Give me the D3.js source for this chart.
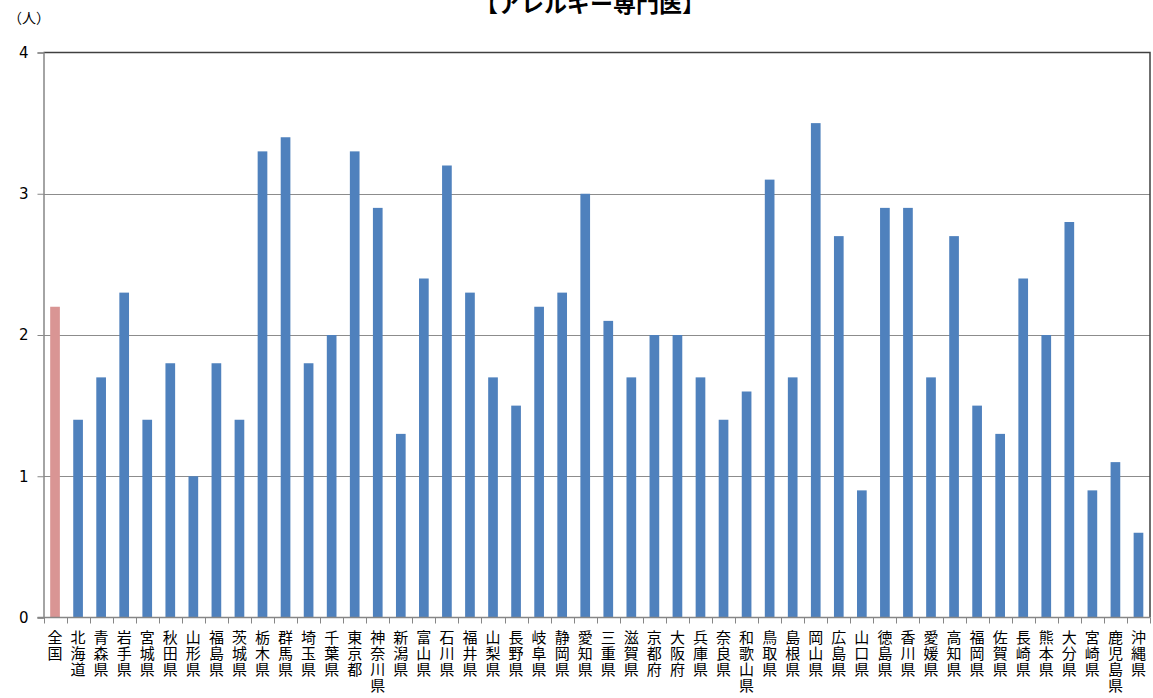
<!DOCTYPE html>
<html><head><meta charset="utf-8">
<script src="https://cdn.jsdelivr.net/npm/d3@7"></script>
<style>
html,body{margin:0;padding:0;background:#fff;}
svg{display:block;}
</style></head>
<body>
<svg id="c" width="1153" height="698"></svg>
<script>
const title = "【アレルギー専門医】";
const unitLabel = "（人）";
const categories = ["全国","北海道","青森県","岩手県","宮城県","秋田県","山形県","福島県","茨城県","栃木県","群馬県","埼玉県","千葉県","東京都","神奈川県","新潟県","富山県","石川県","福井県","山梨県","長野県","岐阜県","静岡県","愛知県","三重県","滋賀県","京都府","大阪府","兵庫県","奈良県","和歌山県","鳥取県","島根県","岡山県","広島県","山口県","徳島県","香川県","愛媛県","高知県","福岡県","佐賀県","長崎県","熊本県","大分県","宮崎県","鹿児島県","沖縄県"];
const values = [2.2,1.4,1.7,2.3,1.4,1.8,1.0,1.8,1.4,3.3,3.4,1.8,2.0,3.3,2.9,1.3,2.4,3.2,2.3,1.7,1.5,2.2,2.3,3.0,2.1,1.7,2.0,2.0,1.7,1.4,1.6,3.1,1.7,3.5,2.7,0.9,2.9,2.9,1.7,2.7,1.5,1.3,2.4,2.0,2.8,0.9,1.1,0.6];
const yTicks = [0,1,2,3,4];

const svg = d3.select("#c");
const L = 43.5, R = 1150, T = 52.5, B = 617.5;
const font = "'DejaVu Sans', Verdana, sans-serif";
const jfont = "'Noto Sans CJK JP', sans-serif";

const x = d3.scaleBand().domain(categories).range([L, R]).paddingInner(0.58).paddingOuter(0.29);
const xb = d3.scaleBand().domain(categories).range([L, R]);
const y = d3.scaleLinear().domain([0, 4]).range([B, T]);

// gridlines
svg.append("g").selectAll("line").data(yTicks.filter(d => d > 0 && d < 4)).join("line")
  .attr("x1", L).attr("x2", R).attr("y1", d => Math.round(y(d)) + 0.5).attr("y2", d => Math.round(y(d)) + 0.5)
  .attr("stroke", "#8c8c8c").attr("stroke-width", 1);

// bars
svg.append("g").selectAll("rect").data(values).join("rect")
  .attr("x", (d, i) => x(categories[i]))
  .attr("width", x.bandwidth())
  .attr("y", d => y(d))
  .attr("height", d => y(0) - y(d))
  .attr("fill", (d, i) => i === 0 ? "#d99594" : "#4f81bd");

// border top & right
svg.append("path").attr("d", `M${L},${T}H${R}V${B}`).attr("fill", "none").attr("stroke", "#404040").attr("stroke-width", 1.5);

// y axis
const yAxis = d3.axisLeft(y).tickValues(yTicks).tickSize(6).tickPadding(9).tickFormat(d3.format("d"));
const gy = svg.append("g").attr("transform", `translate(${L},0)`).call(yAxis);
gy.select(".domain").attr("stroke", "#868686").attr("stroke-width", 1.5);
gy.selectAll(".tick line").attr("stroke", "#868686");
gy.selectAll(".tick text").attr("font-family", font).attr("font-size", 15).attr("fill", "#000");

// x axis baseline and ticks at boundaries
svg.append("line").attr("x1", L - 6).attr("x2", R).attr("y1", B).attr("y2", B).attr("stroke", "#868686").attr("stroke-width", 1.5);
const bounds = categories.map(c => xb(c)).concat([R]);
svg.append("g").selectAll("line").data(bounds).join("line")
  .attr("x1", d => Math.round(d) + 0.5).attr("x2", d => Math.round(d) + 0.5)
  .attr("y1", B).attr("y2", B + 6).attr("stroke", "#868686");

// x labels vertical stacked, one text per character
const lg = svg.append("g");
categories.forEach((c, i) => {
  const cx = xb(c) + xb.bandwidth() / 2;
  Array.from(c).forEach((ch, k) => {
    lg.append("text").attr("x", cx).attr("y", 643 + k * 16)
      .attr("text-anchor", "middle").attr("font-family", jfont).attr("font-size", 15)
      .attr("fill", "#000").text(ch);
  });
});

// unit label
svg.append("text").attr("x", 8).attr("y", 23).attr("font-family", jfont).attr("font-size", 14).attr("fill", "#000").text(unitLabel);

// title
svg.append("text").attr("x", 590).attr("y", 12).attr("text-anchor", "middle").attr("font-family", jfont)
  .attr("font-weight", "bold").attr("font-size", 23).attr("fill", "#000").text(title);
</script>
</body></html>
